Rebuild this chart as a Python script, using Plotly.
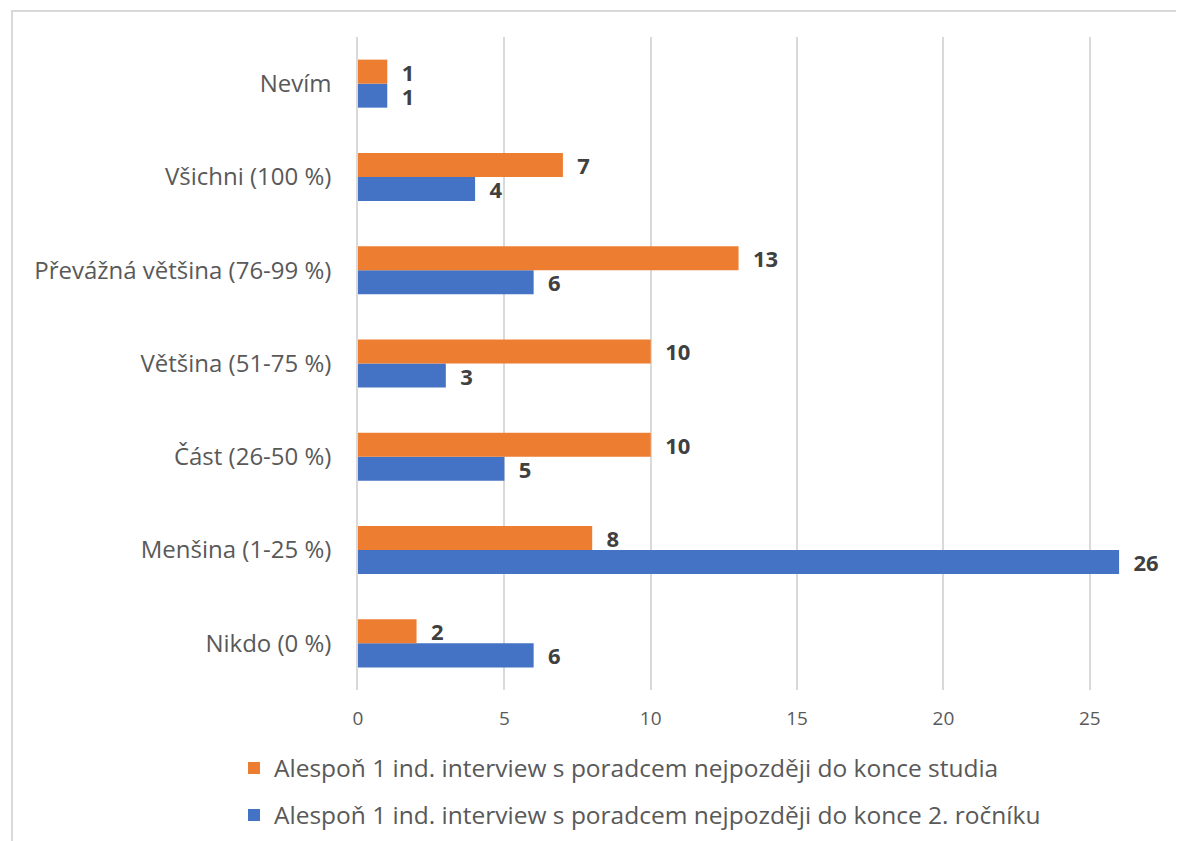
import plotly.graph_objects as go

categories = ["Nikdo (0 %)", "Menšina (1-25 %)", "Část (26-50 %)", "Většina (51-75 %)",
              "Převážná většina (76-99 %)", "Všichni (100 %)", "Nevím"]
studia = [2, 8, 10, 10, 13, 7, 1]
rocnik = [6, 26, 5, 3, 6, 4, 1]
name_studia = "Alespoň 1 ind. interview s poradcem nejpozději do konce studia"
name_rocnik = "Alespoň 1 ind. interview s poradcem nejpozději do konce 2. ročníku"
x_ticks = [0, 5, 10, 15, 20, 25]

OFF = 8  # default page body margin
W, H = 1184 - OFF, 841 - OFF
L, R, T, B = 358 - OFF, 1163 - OFF, 37 - OFF, 690 - OFF


def px(x):
    return (x - OFF - L) / (R - L)


def py(y):
    return (B - (y - OFF)) / (B - T)


font_family = "Open Sans, Noto Sans, sans-serif"
label_font = dict(size=22, color="#404040", family=font_family, weight="bold")
pad = "\u00a0\u00a0"

fig = go.Figure()
fig.add_trace(go.Bar(
    y=categories, x=rocnik, name=name_rocnik, orientation="h",
    marker=dict(color="#4472C4", line=dict(width=0)),
    text=rocnik, texttemplate=pad + "%{x}", textposition="outside", cliponaxis=False,
    constraintext="none", textfont=label_font, legend="legend2",
))
fig.add_trace(go.Bar(
    y=categories, x=studia, name=name_studia, orientation="h",
    marker=dict(color="#ED7D31", line=dict(width=0)),
    text=studia, texttemplate=pad + "%{x}", textposition="outside", cliponaxis=False,
    constraintext="none", textfont=label_font, legend="legend",
))

legend_common = dict(
    orientation="v", xanchor="left", yanchor="middle",
    font=dict(size=24.5, color="#595959", family=font_family),
    itemwidth=30, bgcolor="rgba(0,0,0,0)",
)

fig.update_layout(
    width=W, height=H,
    margin=dict(l=L, r=W - R, t=T, b=H - B, autoexpand=False),
    barmode="group", bargap=0.485, bargroupgap=0,
    plot_bgcolor="white", paper_bgcolor="white",
    font=dict(family=font_family, color="#595959"),
    showlegend=True,
    legend=dict(x=px(234), y=py(768), **legend_common),
    legend2=dict(x=px(234), y=py(815), **legend_common),
    xaxis=dict(
        range=[0, 27.5], tickvals=x_ticks, showgrid=True, gridcolor="#d9d9d9",
        gridwidth=1.5, zeroline=False, showline=False,
        tickfont=dict(size=19, color="#595959"), ticks="", ticklabelstandoff=15,
    ),
    yaxis=dict(
        categoryorder="array", categoryarray=categories,
        showgrid=False, showline=True, linecolor="#d9d9d9", linewidth=1.5,
        ticks="", tickfont=dict(size=24, color="#595959"), ticklabelstandoff=20,
    ),
    shapes=[dict(
        type="rect", xref="paper", yref="paper",
        x0=px(12), x1=px(1250), y0=py(900), y1=py(11),
        line=dict(color="#d9d9d9", width=2), fillcolor="rgba(0,0,0,0)", layer="below",
    )],
)

fig.write_html("out.html")
